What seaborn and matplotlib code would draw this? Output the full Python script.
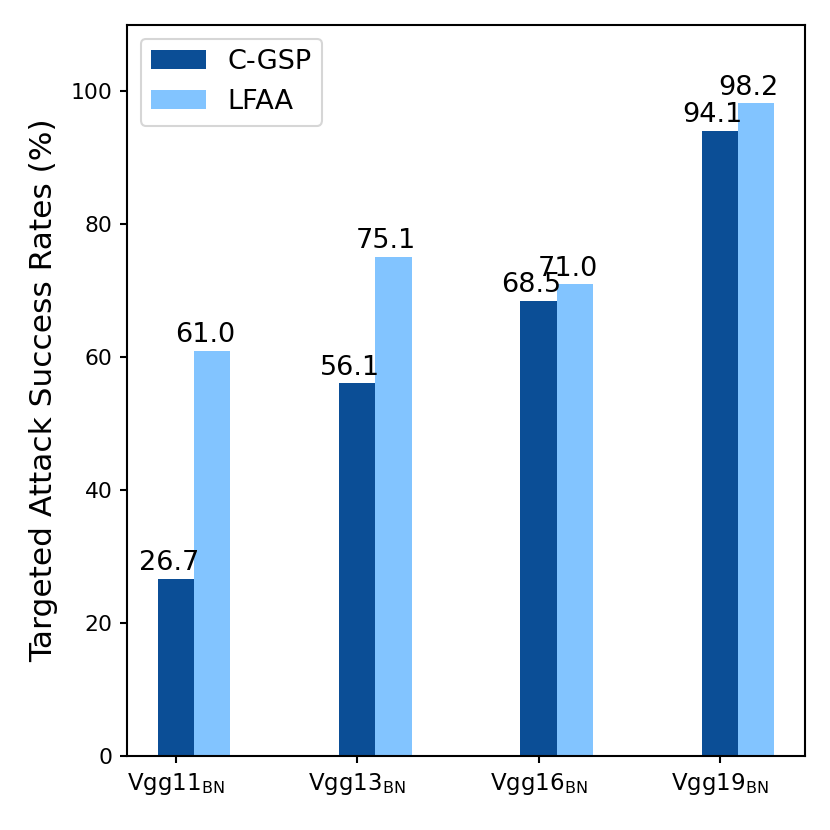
import numpy as np
import pandas as pd
import matplotlib
matplotlib.use("Agg")
import matplotlib.pyplot as plt
import seaborn as sns

models = [r"Vgg11$_{\mathrm{BN}}$", r"Vgg13$_{\mathrm{BN}}$", r"Vgg16$_{\mathrm{BN}}$", r"Vgg19$_{\mathrm{BN}}$"]
series = ["C-GSP", "LFAA"]
cgsp = [26.7, 56.1, 68.5, 94.1]
lfaa = [61.0, 75.1, 71.0, 98.2]
colors = ["#0b4e96", "#82c4ff"]

bw = 0.2
rows = []
for i in range(len(models)):
    rows.append({"pos": round(i + 0 * bw, 3), "value": cgsp[i], "series": series[0]})
    rows.append({"pos": round(i + 1 * bw, 3), "value": lfaa[i], "series": series[1]})
df = pd.DataFrame(rows)

sns.set_style("ticks")
plt.rcParams["font.family"] = ["DejaVu Sans"]
plt.rcParams["text.color"] = "black"
plt.rcParams["axes.labelcolor"] = "black"
plt.rcParams["xtick.color"] = "black"
plt.rcParams["ytick.color"] = "black"

fig = plt.figure(figsize=(830 / 150, 830 / 150), dpi=150)
ax = fig.add_axes([127 / 830, 1 - 756 / 830, (805 - 127) / 830, (756 - 25) / 830])

sns.barplot(data=df, x="pos", y="value", hue="series", hue_order=series,
            palette=colors, native_scale=True, dodge=False, width=1.0,
            saturation=1, linewidth=0, ax=ax, legend=True)

for p in ax.patches:
    h = p.get_height()
    if h is None or np.isnan(h) or h == 0:
        continue
    cx = p.get_x() + p.get_width() / 2
    ax.text(cx - 0.04, h + 0.4, f"{h:.1f}", ha="center", va="bottom", fontsize=13, color="black")

ax.set_xlim(-0.27, 3.47)
ax.set_ylim(0, 110)
ax.set_xticks(range(len(models)))
ax.set_xticklabels(models, fontsize=11)
ax.set_yticks([0, 20, 40, 60, 80, 100])
ax.tick_params(axis="y", labelsize=10.5)
ax.set_xlabel("")
ax.set_ylabel("Targeted Attack Success Rates (%)", fontsize=15, labelpad=6)
for s in ax.spines.values():
    s.set_visible(True)
    s.set_color("black")
    s.set_linewidth(1.0)
ax.tick_params(direction="out", length=3.5, width=1.0, color="black")
ax.legend(loc="upper left", fontsize=13, title=None)

fig.savefig("out.png", dpi=150)
